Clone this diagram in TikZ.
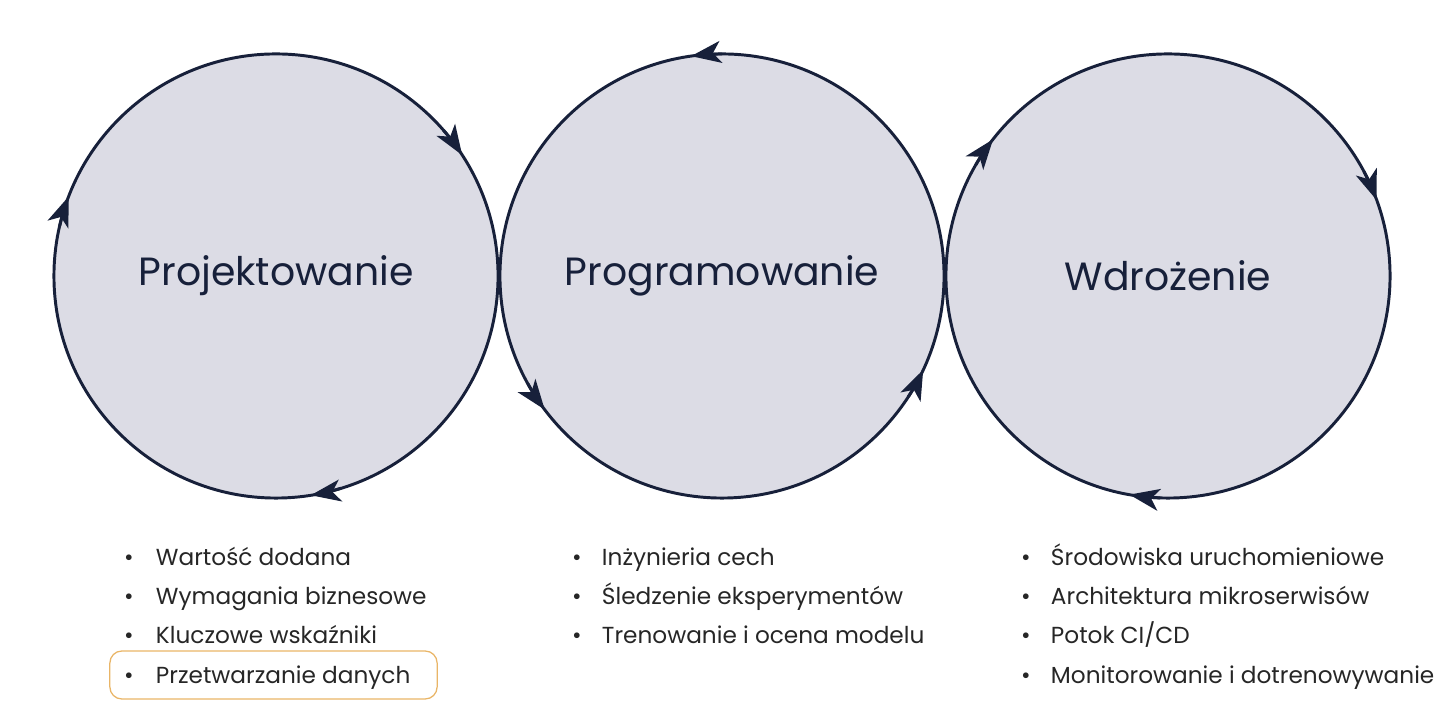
\documentclass[tikz,border=0pt]{standalone}
\usepackage{fontspec}
\setmainfont{Poppins}
\usetikzlibrary{arrows.meta,positioning}
\definecolor{navy}{HTML}{17203A}
\definecolor{lav}{HTML}{DCDCE5}
\definecolor{hl}{HTML}{E9B567}

\begin{document}
\begin{tikzpicture}[x=0.025cm, y=0.025cm]
\tikzset{
  phase/.style={circle, draw=navy, fill=lav, line width=2.1pt, minimum size=11.1cm, inner sep=0pt, font=\fontsize{28}{32}\selectfont, text=navy},
  tip/.style={navy, line width=2.1pt, -{Stealth[length=0.75cm, width=0.55cm, inset=0.2cm]}},
  item/.style={anchor=base west, font=\fontsize{16.5}{20}\selectfont, text=black!85},
  dot/.style={anchor=base, font=\fontsize{16.5}{20}\selectfont, text=black!85}
}
\useasboundingbox (0,0) rectangle (1440,720);

% phases
\node[phase] (proj) at (276,444) {Projektowanie};
\node[phase] (prog) at (722,444) {Programowanie};
\node[phase] (wdro) at (1168,444) {Wdrożenie};

% direction marks
\foreach \n/\a/\b in {proj/41/33, proj/167/159, proj/-73/-81,
                      prog/90/98, prog/209/217, prog/327/335,
                      wdro/150/142, wdro/28/20, wdro/268/260}
  \draw[tip] ([shift={(\a:222)}]\n.center) arc[start angle=\a, end angle=\b, radius=222];

% lists
\node[draw=hl, line width=0.9pt, rounded corners=0.3cm, minimum width=8.18cm, minimum height=1.2cm] (mark) at (273.5,45) {};
\foreach \t [count=\i] in {Wartość dodana, Wymagania biznesowe, Kluczowe wskaźniki, Przetwarzanie danych} {
  \node[dot] at (129,194-39.3*\i) {•};
  \node[item] (p\i) at (151,194-39.3*\i) {\t};
}
\foreach \t [count=\i] in {Inżynieria cech, Śledzenie eksperymentów, Trenowanie i ocena modelu} {
  \node[dot] at (577,194-39.3*\i) {•};
  \node[item] (g\i) at (597,194-39.3*\i) {\t};
}
\foreach \t [count=\i] in {Środowiska uruchomieniowe, Architektura mikroserwisów, Potok CI/CD, Monitorowanie i dotrenowywanie} {
  \node[dot] at (1026,194-39.3*\i) {•};
  \node[item] (w\i) at (1046,194-39.3*\i) {\t};
}
\end{tikzpicture}
\end{document}
